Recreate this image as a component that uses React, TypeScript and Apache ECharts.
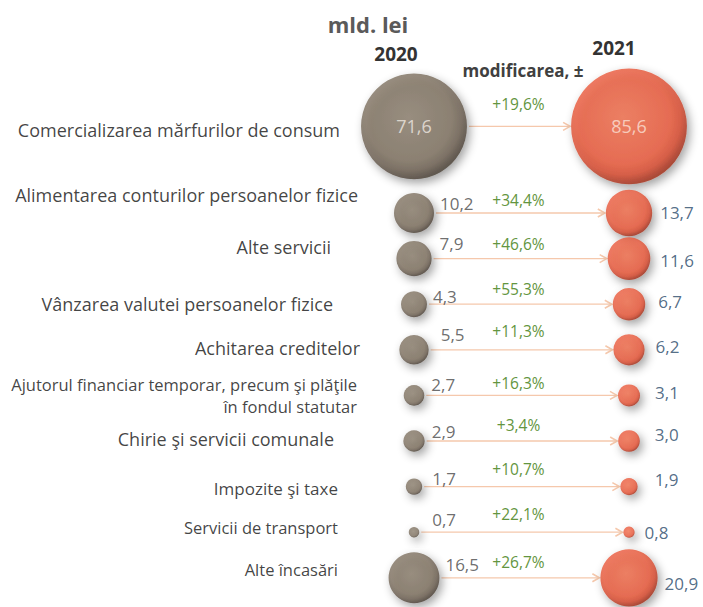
import React, { useEffect, useRef } from "react";
import * as echarts from "echarts";

const categories = [
  "Comercializarea mărfurilor de consum",
  "Alimentarea conturilor persoanelor fizice",
  "Alte servicii",
  "Vânzarea valutei persoanelor fizice",
  "Achitarea creditelor",
  "Ajutorul financiar temporar, precum şi plăţile\nîn fondul statutar",
  "Chirie şi servicii comunale",
  "Impozite şi taxe",
  "Servicii de transport",
  "Alte încasări",
];
const years = ["2020", "2021"];
const values2020 = [71.6, 10.2, 7.9, 4.3, 5.5, 2.7, 2.9, 1.7, 0.7, 16.5];
const values2021 = [85.6, 13.7, 11.6, 6.7, 6.2, 3.1, 3.0, 1.9, 0.8, 20.9];
const changes = [19.6, 34.4, 46.6, 55.3, 11.3, 16.3, 3.4, 10.7, 22.1, 26.7];
const unitTitle = "mld. lei";
const changeTitle = "modificarea, ±";

// layout (not data)
const K = 6.26; // px radius per sqrt(value)
const FONT = '"Open Sans"';
const rowPos = (i: number) => (i === 0 ? -0.9 : i);
const catDx = [-20, -2, -29, -27, 0, -3, -26, -22, -22, -22];
const catDy = [4, -18, -12, 0, -2, 0, -2, 2, -5, -8];
const catSize = [18, 18, 18, 18, 18, 16.5, 18, 17, 16.5, 16.5];
const v20Dx = [0, 6, 8, 6, 12, 7, 7, 10, 13, 6];
const v20Dy = [0, -10, -15, -8, -15, -11, -10, -8, -13, -13];
const v21Dx = [0, 8, 10, 13, 11, 15, 15, 17, 10, 7];
const v21Dy = [0, -1, 2, -3, -3, -3, -7, -7, 0, 6];
const pctDy = [-22, -13, -15, -15, -19, -12, -16, -18, -18, -16];

const fmt = (v: number) => v.toFixed(1).replace(".", ",");
const fmtPct = (v: number) => "+" + fmt(v) + "%";
const radius = (v: number) => K * Math.sqrt(v);

const brownFill = new echarts.graphic.RadialGradient(0.45, 0.42, 0.58, [
  { offset: 0, color: "#8e8170" },
  { offset: 0.7, color: "#7f7261" },
  { offset: 0.86, color: "#6d6052" },
  { offset: 1, color: "#4b4137" },
]);
const redFill = new echarts.graphic.RadialGradient(0.45, 0.42, 0.58, [
  { offset: 0, color: "#f2704f" },
  { offset: 0.7, color: "#ea5a3c" },
  { offset: 0.86, color: "#d84a2e" },
  { offset: 1, color: "#a3301b" },
]);

export default function App() {
  const ref = useRef<HTMLDivElement>(null);
  useEffect(() => {
    document.body.style.margin = "0";
    const chart = echarts.init(ref.current!, null, { renderer: "svg" });

    const data2020 = values2020.map((v, i) => ({
      value: [0, rowPos(i), v],
      label:
        i === 0
          ? { position: "inside", color: "#efe9e2", fontSize: 18 }
          : {
              position: "right",
              distance: 0,
              offset: [v20Dx[i], v20Dy[i]],
              color: "#484848",
              fontSize: 17,
            },
    }));
    const data2021 = values2021.map((v, i) => ({
      value: [1, rowPos(i), v],
      label:
        i === 0
          ? { position: "inside", color: "#fbe1d6", fontSize: 18 }
          : {
              position: "right",
              distance: 0,
              offset: [v21Dx[i], v21Dy[i]],
              color: "#284868",
              fontSize: 17,
            },
    }));
    const catData = categories.map((c, i) => ({
      value: [-0.2512, rowPos(i)],
      label: {
        offset: [catDx[i], catDy[i]],
        fontSize: catSize[i],
        lineHeight: i === 5 ? 22 : undefined,
      },
    }));
    const arrowData = values2020.map((v, i) => [0.5, rowPos(i), v, values2021[i], changes[i], i]);

    const shadow = {
      shadowBlur: 10,
      shadowColor: "rgba(0,0,0,0.45)",
      shadowOffsetX: 3,
      shadowOffsetY: 4,
    };

    chart.setOption({
      animation: false,
      textStyle: { fontFamily: FONT },
      grid: { left: 414, right: 74, top: 53.4, bottom: 1.84 },
      xAxis: { type: "value", min: 0, max: 1, show: false },
      yAxis: { type: "value", min: -2.5, max: 9.6, inverse: true, show: false },
      graphic: [
        {
          type: "text",
          x: 368,
          y: 24,
          style: {
            text: unitTitle,
            align: "center",
            verticalAlign: "middle",
            fill: "#5a5a5a",
            font: `bold 22px ${FONT}`,
          },
        },
        {
          type: "text",
          x: 396,
          y: 54,
          style: {
            text: years[0],
            align: "center",
            verticalAlign: "middle",
            fill: "#333333",
            font: `bold 19px ${FONT}`,
          },
        },
        {
          type: "text",
          x: 614,
          y: 48,
          style: {
            text: years[1],
            align: "center",
            verticalAlign: "middle",
            fill: "#333333",
            font: `bold 19px ${FONT}`,
          },
        },
        {
          type: "text",
          x: 523,
          y: 70,
          style: {
            text: changeTitle,
            align: "center",
            verticalAlign: "middle",
            fill: "#404040",
            font: `bold 17px ${FONT}`,
          },
        },
      ],
      series: [
        {
          type: "custom",
          clip: false,
          z: 1,
          encode: { x: 0, y: 1 },
          data: arrowData,
          renderItem: (params: any, api: any) => {
            const y = api.value(1);
            const a = api.value(2);
            const b = api.value(3);
            const pct = api.value(4);
            const idx = params.dataIndex;
            const p1 = api.coord([0, y]);
            const p2 = api.coord([1, y]);
            const x1 = p1[0] + radius(a) + 2;
            const x2 = p2[0] - radius(b) - 1;
            const yy = p1[1];
            const col = "#f5c8ac";
            return {
              type: "group",
              children: [
                {
                  type: "line",
                  shape: { x1, y1: yy, x2: x2 - 1, y2: yy },
                  style: { stroke: col, lineWidth: 1.3 },
                },
                {
                  type: "polyline",
                  shape: {
                    points: [
                      [x2 - 7, yy - 4],
                      [x2, yy],
                      [x2 - 7, yy + 4],
                    ],
                  },
                  style: { stroke: col, fill: "none", lineWidth: 1.6 },
                },
                {
                  type: "text",
                  x: (p1[0] + p2[0]) / 2 - 3,
                  y: yy + pctDy[idx],
                  style: {
                    text: fmtPct(pct),
                    align: "center",
                    verticalAlign: "middle",
                    fill: "#639540",
                    font: `15.5px ${FONT}`,
                  },
                },
              ],
            };
          },
        },
        {
          type: "scatter",
          name: years[0],
          clip: false,
          z: 3,
          data: data2020,
          symbolSize: (val: number[]) => 2 * radius(val[2]),
          itemStyle: { color: brownFill, ...shadow },
          label: {
            show: true,
            fontFamily: FONT,
            formatter: (p: any) => fmt(p.value[2]),
          },
        },
        {
          type: "scatter",
          name: years[1],
          clip: false,
          z: 3,
          data: data2021,
          symbolSize: (val: number[]) => 2 * radius(val[2]),
          itemStyle: { color: redFill, ...shadow },
          label: {
            show: true,
            fontFamily: FONT,
            formatter: (p: any) => fmt(p.value[2]),
          },
        },
        {
          type: "scatter",
          clip: false,
          z: 2,
          symbolSize: 0,
          silent: true,
          data: catData,
          label: {
            show: true,
            position: "left",
            distance: 0,
            align: "right",
            color: "#111111",
            fontFamily: FONT,
            formatter: (p: any) => categories[p.dataIndex],
          },
        },
      ],
    });
    return () => chart.dispose();
  }, []);
  return <div ref={ref} style={{ width: 703, height: 607 }} />;
}
